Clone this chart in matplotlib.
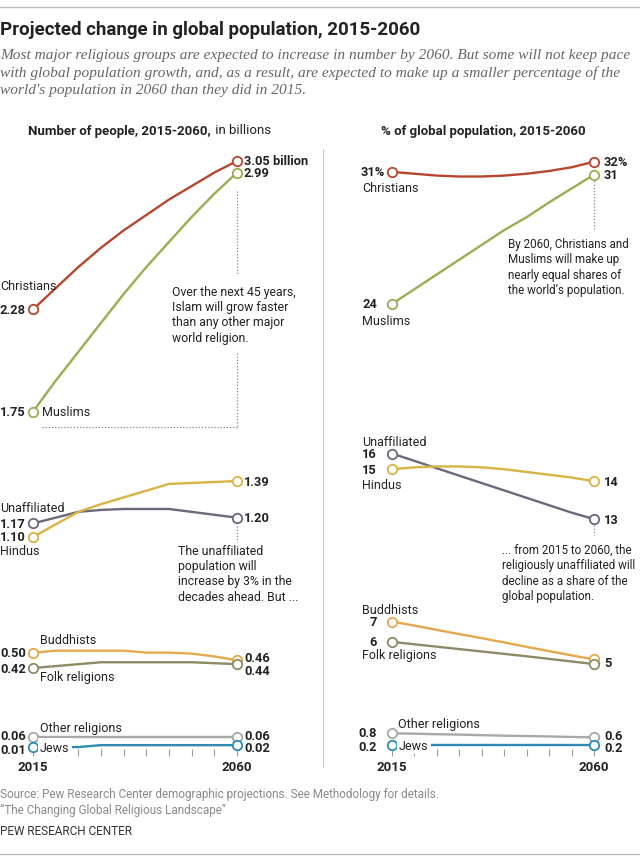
import matplotlib.pyplot as plt
from matplotlib.lines import Line2D

W, H = 640, 862

years = [2015, 2020, 2025, 2030, 2035, 2040, 2045, 2050, 2055, 2060]
tick_labels = ["2015", "", "", "", "", "", "", "", "", "2060"]

# number of people, billions
christians_n = [2.28, 2.39, 2.50, 2.60, 2.69, 2.77, 2.85, 2.92, 2.99, 3.05]
muslims_n = [1.75, 1.91, 2.06, 2.21, 2.36, 2.50, 2.63, 2.76, 2.88, 2.99]
unaffiliated_n = [1.17, 1.20, 1.23, 1.24, 1.245, 1.245, 1.245, 1.23, 1.215, 1.20]
hindus_n = [1.10, 1.165, 1.23, 1.27, 1.305, 1.34, 1.375, 1.38, 1.385, 1.39]
buddhists_n = [0.50, 0.51, 0.51, 0.51, 0.51, 0.50, 0.50, 0.495, 0.48, 0.46]
folk_n = [0.42, 0.43, 0.44, 0.45, 0.45, 0.45, 0.45, 0.45, 0.445, 0.44]
other_n = [0.06, 0.06, 0.06, 0.06, 0.06, 0.06, 0.06, 0.06, 0.06, 0.06]
jews_n = [0.01, 0.01, 0.01, 0.02, 0.02, 0.02, 0.02, 0.02, 0.02, 0.02]

# share of global population, %
christians_pct = [31.25, 31.15, 31.05, 31.0, 31.0, 31.05, 31.15, 31.3, 31.5, 31.8]
muslims_pct = [24.1, 24.9, 25.7, 26.5, 27.3, 28.1, 28.8, 29.6, 30.35, 31.1]
unaffiliated_pct = [16.0, 15.6, 15.2, 14.8, 14.4, 14.0, 13.6, 13.2, 12.8, 12.45]
hindus_pct = [15.15, 15.25, 15.3, 15.3, 15.25, 15.15, 15.0, 14.85, 14.7, 14.5]
buddhists_pct = [6.9, 6.68, 6.45, 6.22, 6.0, 5.77, 5.53, 5.3, 5.07, 4.85]
folk_pct = [5.8, 5.67, 5.54, 5.41, 5.28, 5.15, 5.02, 4.88, 4.74, 4.6]
other_pct = [0.85, 0.83, 0.80, 0.78, 0.75, 0.72, 0.70, 0.68, 0.65, 0.63]
jews_pct = [0.2, 0.2, 0.2, 0.2, 0.2, 0.2, 0.2, 0.2, 0.2, 0.2]

# value labels (start, end)
labels_n = {
    "Christians": ("2.28", "3.05 billion"),
    "Muslims": ("1.75", "2.99"),
    "Unaffiliated": ("1.17", "1.20"),
    "Hindus": ("1.10", "1.39"),
    "Buddhists": ("0.50", "0.46"),
    "Folk religions": ("0.42", "0.44"),
    "Other religions": ("0.06", "0.06"),
    "Jews": ("0.01", "0.02"),
}
labels_pct = {
    "Christians": ("31%", "32%"),
    "Muslims": ("24", "31"),
    "Unaffiliated": ("16", "13"),
    "Hindus": ("15", "14"),
    "Buddhists": ("7", "5"),
    "Folk religions": ("6", ""),
    "Other religions": ("0.8", "0.6"),
    "Jews": ("0.2", "0.2"),
}

COLORS = {
    "Christians": "#b5472f",
    "Muslims": "#9dab52",
    "Unaffiliated": "#6c687c",
    "Hindus": "#d8b443",
    "Buddhists": "#e5a84c",
    "Folk religions": "#8d8a66",
    "Other religions": "#a8a8a8",
    "Jews": "#2c8ab3",
}

SANS = ["Roboto", "DejaVu Sans"]
NARROW = ["Liberation Sans Narrow", "Roboto", "DejaVu Sans"]
SERIF = ["Liberation Serif", "DejaVu Serif"]
DARK = "#222222"


def _fig_text(fig, x, y, s, **kw):
    kw.setdefault("family", SANS)
    kw.setdefault("color", DARK)
    kw.setdefault("va", "center")
    fig.text(x / W, 1 - y / H, s, **kw)


def _fig_line(fig, xs, ys, **kw):
    fig.add_artist(Line2D([x / W for x in xs], [1 - y / H for y in ys],
                          transform=fig.transFigure, **kw))


def _make_axes(fig, x0, x1, ymax):
    ax = fig.add_axes([x0 / W, (H - 750) / H, (x1 - x0) / W, 588 / H])
    ax.set_xlim(years[0], years[-1])
    ax.set_ylim(0, ymax)
    ax.patch.set_visible(False)
    for s in ax.spines.values():
        s.set_visible(False)
    ax.set_yticks([])
    ax.set_xticks(years)
    ax.set_xticklabels(tick_labels, fontweight="bold", family=SANS, fontsize=9.5, color=DARK)
    ax.tick_params(axis="x", length=5, width=0.8, color="#9a9a9a", pad=3)
    return ax


def _draw_panel(ax, series, value_labels, start_off, end_off, name_off):
    for name, values in series.items():
        ax.plot(years, values, color=COLORS[name], lw=1.7, marker="o", markevery=[0, -1],
                ms=6.8, mfc="white", mec=COLORS[name], mew=1.3, clip_on=False, zorder=3)
        first, last = value_labels[name]
        dx, dy = start_off.get(name, (-7, 0))
        ax.annotate(first, (years[0], values[0]), xytext=(dx, -dy), textcoords="offset pixels",
                    ha="right", va="center", fontweight="bold", family=SANS, fontsize=9.3,
                    color=DARK, annotation_clip=False)
        dx, dy = end_off.get(name, (7, 0))
        ax.annotate(last, (years[-1], values[-1]), xytext=(dx, -dy), textcoords="offset pixels",
                    ha="left", va="center", fontweight="bold", family=SANS, fontsize=9.3,
                    color=DARK, annotation_clip=False)
        dx, dy = name_off[name]
        bbox = None
        if name == "Jews":
            bbox = dict(facecolor="white", edgecolor="none", pad=1.5)
        ax.annotate(name, (years[0], values[0]), xytext=(dx, -dy), textcoords="offset pixels",
                    ha="left", va="center", family=SANS, fontsize=9, color=DARK,
                    annotation_clip=False, bbox=bbox, zorder=5)


def main():
    fig = plt.figure(figsize=(W / 100, H / 100), dpi=100)

    # header
    _fig_line(fig, [0, W], [8, 8], color="#bbbbbb", lw=1)
    _fig_text(fig, 0, 30, "Projected change in global population, 2015-2060",
              family=NARROW, fontweight="bold", fontsize=13.5)
    subtitle = ("Most major religious groups are expected to increase in number by 2060. But some will not keep pace\n"
                "with global population growth, and, as a result, are expected to make up a smaller percentage of the\n"
                "world's population in 2060 than they did in 2015.")
    _fig_text(fig, 0, 49, subtitle, family=SERIF, style="italic", fontsize=11.05,
              color="#666666", va="top", linespacing=1.4)

    # panel headings
    _fig_text(fig, 211, 131, "Number of people, 2015-2060,", fontweight="bold", fontsize=9.5, ha="right")
    _fig_text(fig, 212, 131, " in billions", fontsize=9.5, ha="left")
    _fig_text(fig, 483, 131, "% of global population, 2015-2060", fontweight="bold", fontsize=9.5, ha="center")
    _fig_line(fig, [323, 323], [150, 768], color="#cccccc", lw=0.8)

    # left panel
    ax1 = _make_axes(fig, 33, 237, 3.05)
    series_n = {
        "Christians": christians_n, "Muslims": muslims_n,
        "Unaffiliated": unaffiliated_n, "Hindus": hindus_n,
        "Buddhists": buddhists_n, "Folk religions": folk_n,
        "Other religions": other_n, "Jews": jews_n,
    }
    name_off_n = {
        "Christians": (-33, -24), "Muslims": (9, 0), "Unaffiliated": (-33, -16),
        "Hindus": (-33, 14), "Buddhists": (7, -13), "Folk religions": (7, 8),
        "Other religions": (7, -10), "Jews": (7, 0),
    }
    start_off_n = {"Other religions": (-7, -2), "Jews": (-7, 2)}
    end_off_n = {"Buddhists": (7, -3), "Folk religions": (7, 6),
                 "Other religions": (7, -2), "Jews": (7, 2)}
    _draw_panel(ax1, series_n, labels_n, start_off_n, end_off_n, name_off_n)

    # right panel
    ax2 = _make_axes(fig, 392, 594, 31.84)
    series_pct = {
        "Christians": christians_pct, "Muslims": muslims_pct,
        "Unaffiliated": unaffiliated_pct, "Hindus": hindus_pct,
        "Buddhists": buddhists_pct, "Folk religions": folk_pct,
        "Other religions": other_pct, "Jews": jews_pct,
    }
    name_off_pct = {
        "Christians": (-30, 16), "Muslims": (-30, 17), "Unaffiliated": (-30, -12),
        "Hindus": (-30, 15), "Buddhists": (-30, -12), "Folk religions": (-30, 13),
        "Other religions": (6, -10), "Jews": (7, 0),
    }
    start_off_pct = {name: (-15, 0) for name in series_pct}
    start_off_pct["Christians"] = (-7, 0)
    start_off_pct["Other religions"] = (-15, -1)
    start_off_pct["Jews"] = (-15, 1)
    end_off_pct = {name: (10, 0) for name in series_pct}
    end_off_pct["Buddhists"] = (10, 3)
    end_off_pct["Other religions"] = (10, -2)
    end_off_pct["Jews"] = (10, 2)
    _draw_panel(ax2, series_pct, labels_pct, start_off_pct, end_off_pct, name_off_pct)

    # annotations
    dot = dict(color="#888888", lw=0.9, ls=(0, (1, 1.5)))
    _fig_line(fig, [237, 237], [192, 276], **dot)
    _fig_line(fig, [237, 237], [354, 428], **dot)
    _fig_line(fig, [42, 237], [428, 428], **dot)
    _fig_text(fig, 172, 286, "Over the next 45 years,\nIslam will grow faster\nthan any other major\nworld religion.",
              fontsize=8.8, va="top", linespacing=1.22)
    _fig_line(fig, [237, 237], [527, 543], **dot)
    _fig_text(fig, 178, 545, "The unaffiliated\npopulation will\nincrease by 3% in the\ndecades ahead. But ...",
              fontsize=8.8, va="top", linespacing=1.22)
    _fig_line(fig, [594, 594], [182, 230], **dot)
    _fig_text(fig, 508, 238, "By 2060, Christians and\nMuslims will make up\nnearly equal shares of\nthe world\u2019s population.",
              fontsize=8.4, va="top", linespacing=1.25)
    _fig_line(fig, [594, 594], [526, 536], **dot)
    _fig_text(fig, 502, 544, "... from 2015 to 2060, the\nreligiously unaffiliated will\ndecline as a share of the\nglobal population.",
              fontsize=8.4, va="top", linespacing=1.25)

    # footer
    _fig_text(fig, 0, 795, "Source: Pew Research Center demographic projections. See Methodology for details.",
              family=NARROW, fontsize=8.5, color="#8a8a8a")
    _fig_text(fig, 0, 810, "\u201cThe Changing Global Religious Landscape\u201d",
              family=NARROW, fontsize=8.5, color="#8a8a8a")
    _fig_text(fig, 0, 832, "PEW RESEARCH CENTER", family=NARROW, fontsize=8.5, color="#333333")
    _fig_line(fig, [0, W], [855, 855], color="#bbbbbb", lw=1)

    plt.savefig("out.png", dpi=100)


if __name__ == "__main__":
    main()
